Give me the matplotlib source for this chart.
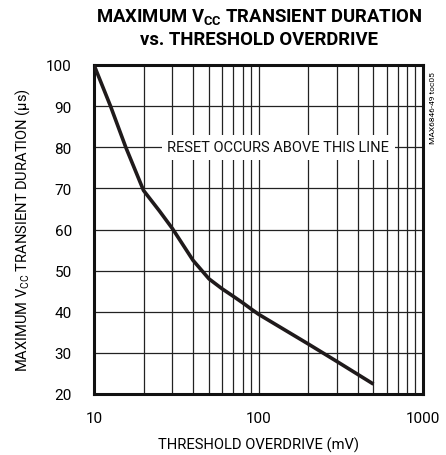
import matplotlib
matplotlib.use("Agg")
import matplotlib.pyplot as plt
from matplotlib.ticker import FixedLocator, NullFormatter

FONT = "Roboto"
plt.rcParams['font.family'] = [FONT, 'DejaVu Sans']
plt.rcParams['mathtext.fontset'] = 'custom'
plt.rcParams['mathtext.rm'] = FONT
plt.rcParams['mathtext.it'] = FONT
plt.rcParams['mathtext.bf'] = FONT + ':bold'

# Data
overdrive_mv = [10, 12.6, 15.6, 20, 25, 30, 40, 50, 60, 70, 80, 90, 100, 200, 300, 500]
duration_us = [100, 90, 80, 69.5, 64.5, 60.2, 52.5, 48.0, 45.6, 43.8, 42.2, 40.7, 39.4, 32.2, 27.9, 22.4]
x_ticks = [10, 100, 1000]
x_tick_labels = ["10", "100", "1000"]
y_ticks = [20, 30, 40, 50, 60, 70, 80, 90, 100]

fig = plt.figure(figsize=(4.46, 4.56), dpi=100)
ax = fig.add_axes([94/446, 1-395/456, 329/446, 329/456])

ax.set_xscale('log')
ax.set_xlim(10, 1000)
ax.set_ylim(20, 100)

minor = [m * d for d in (10, 100) for m in range(2, 10)]
ax.xaxis.set_major_locator(FixedLocator(x_ticks))
ax.xaxis.set_minor_locator(FixedLocator(minor))
ax.xaxis.set_minor_formatter(NullFormatter())
ax.set_xticks(x_ticks)
ax.set_xticklabels(x_tick_labels)
ax.set_yticks(y_ticks)

ax.grid(True, which='both', axis='x', color='#222222', linewidth=0.9)
ax.grid(True, which='major', axis='y', color='#222222', linewidth=0.9)
ax.tick_params(which='both', length=0)
ax.tick_params(axis='y', pad=16, labelsize=11)
ax.tick_params(axis='x', pad=12, labelsize=11)

for s in ax.spines.values():
    s.set_linewidth(2.2)
    s.set_color('#111111')

ax.plot(overdrive_mv, duration_us, color='#1f1a1b', linewidth=2.6, solid_capstyle='butt', zorder=3)

ax.text(10**2.12, 80, "RESET OCCURS ABOVE THIS LINE", ha='center', va='center',
        fontsize=10.5, color='#111111', zorder=4,
        bbox=dict(facecolor='white', edgecolor='none', pad=4))

ax.set_xlabel("THRESHOLD OVERDRIVE (mV)", fontsize=10.6, labelpad=9)
ax.set_ylabel("MAXIMUM V$_{\\mathregular{CC}}$ TRANSIENT DURATION (\u00b5s)", fontsize=10.5, labelpad=10)

fig.text(0.581, 0.963, "MAXIMUM V$_{\\mathbf{CC}}$ TRANSIENT DURATION", ha='center', va='center',
         fontsize=13.3, fontweight='bold')
fig.text(0.581, 0.912, "vs. THRESHOLD OVERDRIVE", ha='center', va='center',
         fontsize=13.3, fontweight='bold')

fig.text(433/446, 1-108/456, "MAX6846-49 toc05", rotation=90, ha='center', va='center', fontsize=6)

fig.savefig("out.png", dpi=100)
